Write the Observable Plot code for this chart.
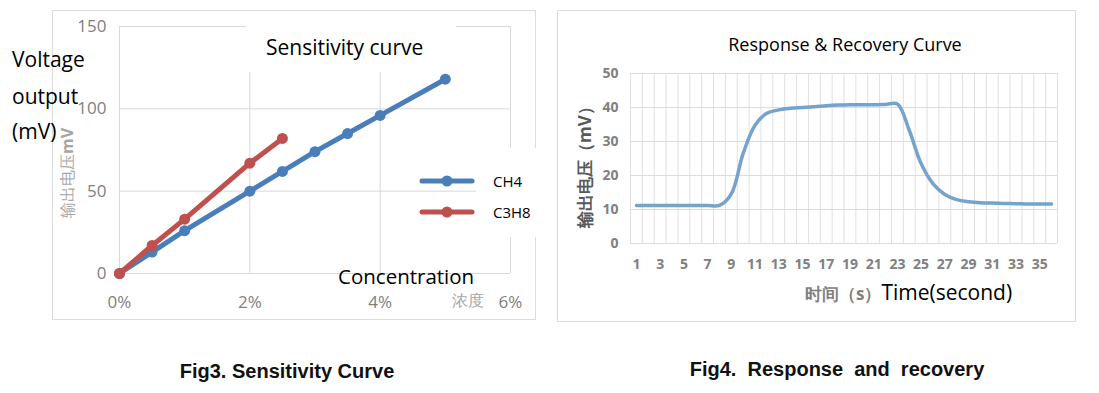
<!DOCTYPE html>
<html>
<head>
<meta charset="utf-8">
<script src="https://cdn.jsdelivr.net/npm/d3@7"></script>
<script src="https://cdn.jsdelivr.net/npm/@observablehq/plot@0.6"></script>
<style>
  html, body { margin: 0; padding: 0; background: #fff; }
  body { width: 1099px; height: 393px; overflow: hidden; position: relative; font-family: "Open Sans", "Noto Sans", sans-serif; }
  .abs { position: absolute; white-space: pre; line-height: 1; }
  .frame { position: absolute; border: 1px solid #dcdcdc; box-sizing: border-box; }
  .white { position: absolute; background: #fff; }
  .vc { transform: translateY(-50%); }
  .cap { font-family: "Liberation Sans", "Arial", sans-serif; font-weight: bold; font-size: 20px; color: #111; }
  .chart svg { overflow: visible; display: block; }
  #err { position:absolute; left:0; top:0; color:red; font-size:12px; white-space:pre-wrap; width:1099px; }
</style>
</head>
<body>
<div class="frame" style="left:52px;top:10px;width:484px;height:310px;"></div>
<div class="frame" style="left:557px;top:10px;width:519px;height:312px;"></div>
<div id="left" class="abs chart" style="left:0;top:0;width:550px;height:330px;"></div>
<div id="right" class="abs chart" style="left:550px;top:0;width:549px;height:330px;"></div>

<!-- left chart overlays -->
<div class="white" style="left:246px;top:18px;width:210px;height:54px;"></div>
<div class="white" style="left:476px;top:148px;width:72px;height:89px;"></div>
<div class="abs vc" style="left:266px;top:47px;font-size:21px;color:#000;">Sensitivity curve</div>
<div class="abs vc" style="left:12px;top:59px;font-size:21px;color:#000;">Voltage</div>
<div class="abs vc" style="left:12px;top:96px;font-size:21px;color:#000;">output</div>
<div class="abs vc" style="left:12px;top:131px;font-size:21px;color:#000;">(mV)</div>
<div class="abs" style="left:67px;top:173px;transform:translate(-50%,-50%) rotate(-90deg);font-size:16px;color:#a6a6a6;">输出电压<b>mV</b></div>
<div class="abs vc" style="left:338px;top:276px;font-size:20.5px;color:#000;">Concentration</div>
<div class="abs vc" style="left:452px;top:300px;font-size:16px;color:#a6a6a6;">浓度</div>
<svg id="legend" style="position:absolute;left:410px;top:165px;" width="80" height="60"></svg>
<div class="abs vc" style="left:493px;top:181px;font-size:15px;color:#000;">CH4</div>
<div class="abs vc" style="left:493px;top:212px;font-size:15px;color:#000;">C3H8</div>

<!-- right chart overlays -->
<div class="abs" style="left:845px;top:44px;transform:translate(-50%,-50%);font-size:18px;color:#000;">Response &amp; Recovery Curve</div>
<div class="abs" style="left:584px;top:163px;transform:translate(-50%,-50%) rotate(-90deg);font-size:17px;font-weight:bold;color:#595959;">输出电压（mV）</div>
<div class="abs vc" style="left:805px;top:292px;"><span style="font-size:17px;font-weight:bold;color:#7f7f7f;">时间（s）</span><span style="font-size:21px;color:#000;">Time(second)</span></div>

<!-- captions -->
<div class="abs cap" style="left:287px;top:371px;transform:translate(-50%,-50%);">Fig3. Sensitivity Curve</div>
<div class="abs cap" style="left:837px;top:369px;transform:translate(-50%,-50%);">Fig4.  Response  and  recovery</div>
<div id="err"></div>

<script>
// ---- Fig3 data: sensitivity curve ----
const concCH4 = [0, 0.5, 1, 2, 2.5, 3, 3.5, 4, 5];      // concentration %
const voltCH4 = [0, 13, 26, 50, 62, 74, 85, 96, 118];   // mV
const concC3H8 = [0, 0.5, 1, 2, 2.5];
const voltC3H8 = [0, 17, 33, 67, 82];
const leftYTicks = [0, 50, 100, 150];
const leftXTicks = [0, 2, 4, 6];
const seriesColors = { CH4: "#4a7ebb", C3H8: "#c0504d" };

// ---- Fig4 data: response & recovery ----
const seconds = [1,2,3,4,5,6,7,8,9,10,11,12,13,14,15,16,17,18,19,20,21,22,23,24,25,26,27,28,29,30,31,32,33,34,35,36];
const outputMV = [11.2,11.2,11.2,11.2,11.2,11.2,11.2,11.2,14.6,26.5,34.8,38.3,39.3,39.8,40.0,40.2,40.5,40.7,40.8,40.8,40.8,40.9,41.0,33.3,23.5,17.6,14.4,12.9,12.3,12.0,11.9,11.8,11.7,11.6,11.6,11.6];
const rightYTicks = [0, 10, 20, 30, 40, 50];
const rightXTicks = [1,3,5,7,9,11,13,15,17,19,21,23,25,27,29,31,33,35];

try {
  const ch4 = concCH4.map((c, i) => ({ c, v: voltCH4[i] }));
  const c3h8 = concC3H8.map((c, i) => ({ c, v: voltC3H8[i] }));
  const resp = seconds.map((t, i) => ({ t, v: outputMV[i] }));
  const gridEdges = [seconds[0] - 0.5, ...seconds.map(s => s + 0.5)];

  const left = Plot.plot({
    width: 550, height: 330,
    marginLeft: 119, marginRight: 40, marginTop: 26, marginBottom: 57,
    x: { domain: [0, 6], ticks: leftXTicks, tickSize: 0, tickPadding: 22, tickFormat: d => d + "%", label: null },
    y: { domain: [0, 150], ticks: leftYTicks, tickSize: 0, tickPadding: 13, label: null },
    style: { fontFamily: "'Open Sans','Noto Sans',sans-serif", fontSize: "17px", color: "#808080", background: "transparent", overflow: "visible" },
    marks: [
      Plot.ruleY(leftYTicks, { stroke: "#d9d9d9", strokeOpacity: 1 }),
      Plot.ruleX(leftXTicks, { stroke: "#d9d9d9", strokeOpacity: 1 }),
      Plot.line(ch4, { x: "c", y: "v", stroke: seriesColors.CH4, strokeWidth: 5 }),
      Plot.dot(ch4, { x: "c", y: "v", r: 5.5, fill: seriesColors.CH4 }),
      Plot.line(c3h8, { x: "c", y: "v", stroke: seriesColors.C3H8, strokeWidth: 5 }),
      Plot.dot(c3h8, { x: "c", y: "v", r: 5.5, fill: seriesColors.C3H8 })
    ]
  });
  document.getElementById("left").appendChild(left);

  const right = Plot.plot({
    width: 549, height: 330,
    marginLeft: 80, marginRight: 42, marginTop: 73, marginBottom: 87,
    x: { domain: [gridEdges[0], gridEdges[gridEdges.length - 1]], ticks: rightXTicks, tickSize: 0, tickPadding: 16, label: null },
    y: { domain: [0, 50], ticks: rightYTicks, tickSize: 0, tickPadding: 12, label: null },
    style: { fontFamily: "'Open Sans','Noto Sans',sans-serif", fontSize: "14px", fontWeight: "bold", color: "#808080", background: "transparent", overflow: "visible" },
    marks: [
      Plot.ruleX(gridEdges, { stroke: "#e0e0e0", strokeOpacity: 1 }),
      Plot.ruleY(rightYTicks, { stroke: "#dcdcdc", strokeOpacity: 1 }),
      Plot.line(resp, { x: "t", y: "v", curve: "catmull-rom", stroke: "#74a3cd", strokeWidth: 3.5 })
    ]
  });
  document.getElementById("right").appendChild(right);

  const lg = d3.select("#legend");
  [["CH4", 16], ["C3H8", 47]].forEach(([k, y]) => {
    lg.append("line").attr("x1", 12).attr("x2", 62).attr("y1", y).attr("y2", y)
      .attr("stroke", seriesColors[k]).attr("stroke-width", 5).attr("stroke-linecap", "round");
    lg.append("circle").attr("cx", 37).attr("cy", y).attr("r", 5.5).attr("fill", seriesColors[k]);
  });
} catch (e) {
  document.getElementById("err").textContent = String(e && e.stack || e);
}
</script>
</body>
</html>
